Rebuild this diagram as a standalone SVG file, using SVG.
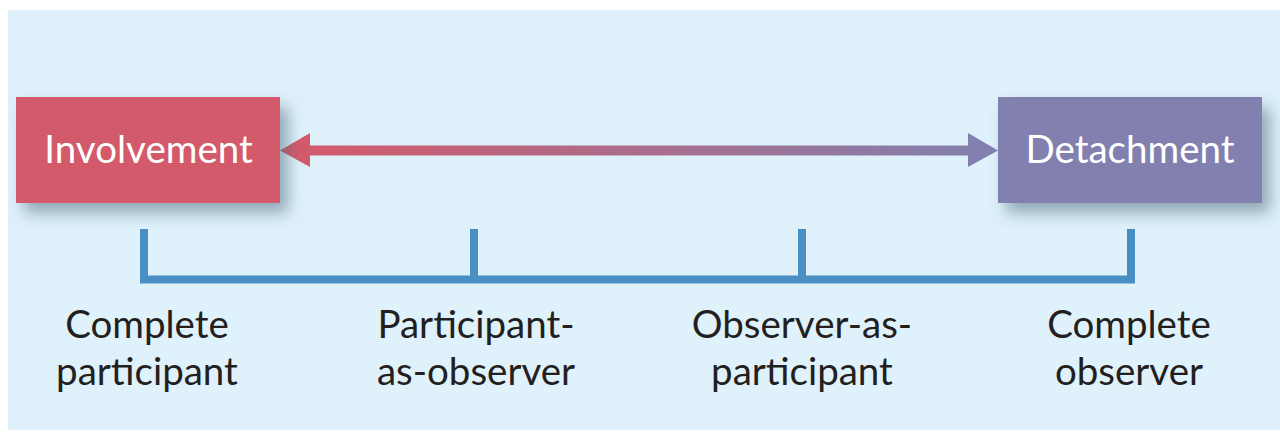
<svg xmlns="http://www.w3.org/2000/svg" width="1280" height="432" viewBox="0 0 1280 432">
  <defs>
    <linearGradient id="grad" gradientUnits="userSpaceOnUse" x1="300" y1="0" x2="980" y2="0">
      <stop offset="0" stop-color="#d35a6a"/>
      <stop offset="1" stop-color="#8280ae"/>
    </linearGradient>
    <filter id="shadow" x="-20%" y="-30%" width="150%" height="170%">
      <feDropShadow dx="8" dy="10" stdDeviation="8" flood-color="#4f6b7c" flood-opacity="0.55"/>
    </filter>
    <style>
      .box-label { font-family: "Lato", "Liberation Sans", sans-serif; font-size: 38.5px; fill: #ffffff; text-anchor: middle; }
      .label { font-family: "Lato", "Liberation Sans", sans-serif; font-size: 38.5px; fill: #231f20; text-anchor: middle; }
      .bracket { fill: none; stroke: #4a8fc4; stroke-width: 8; stroke-linecap: butt; stroke-linejoin: miter; }
    </style>
  </defs>
  <rect x="0" y="0" width="1280" height="432" fill="#ffffff"/>
  <rect x="8" y="10" width="1272" height="420" fill="#dff1fb"/>

  <g id="connectors">
    <rect x="305" y="145.5" width="668" height="10" fill="url(#grad)"/>
    <polygon points="280,150.5 310,133 310,167" fill="#d35a6a"/>
    <polygon points="998,150.5 968,133 968,167" fill="#8280ae"/>
    <path class="bracket" d="M144,229 V279.5 H1131 V229 M474,229 V279.5 M802,229 V279.5"/>
  </g>

  <g id="node-involvement">
    <rect x="16" y="97" width="264" height="106" fill="#d35a6a" filter="url(#shadow)"/>
    <text class="box-label" x="148.5" y="163">Involvement</text>
  </g>

  <g id="node-detachment">
    <rect x="998" y="97" width="264" height="106" fill="#8280ae" filter="url(#shadow)"/>
    <text class="box-label" x="1130" y="163">Detachment</text>
  </g>

  <g id="label-complete-participant">
    <text class="label" x="147" y="338">Complete</text>
    <text class="label" x="147" y="385">participant</text>
  </g>
  <g id="label-participant-as-observer">
    <text class="label" x="476" y="338">Participant-</text>
    <text class="label" x="476" y="385">as-observer</text>
  </g>
  <g id="label-observer-as-participant">
    <text class="label" x="802" y="338">Observer-as-</text>
    <text class="label" x="802" y="385">participant</text>
  </g>
  <g id="label-complete-observer">
    <text class="label" x="1129" y="338">Complete</text>
    <text class="label" x="1129" y="385">observer</text>
  </g>
</svg>
